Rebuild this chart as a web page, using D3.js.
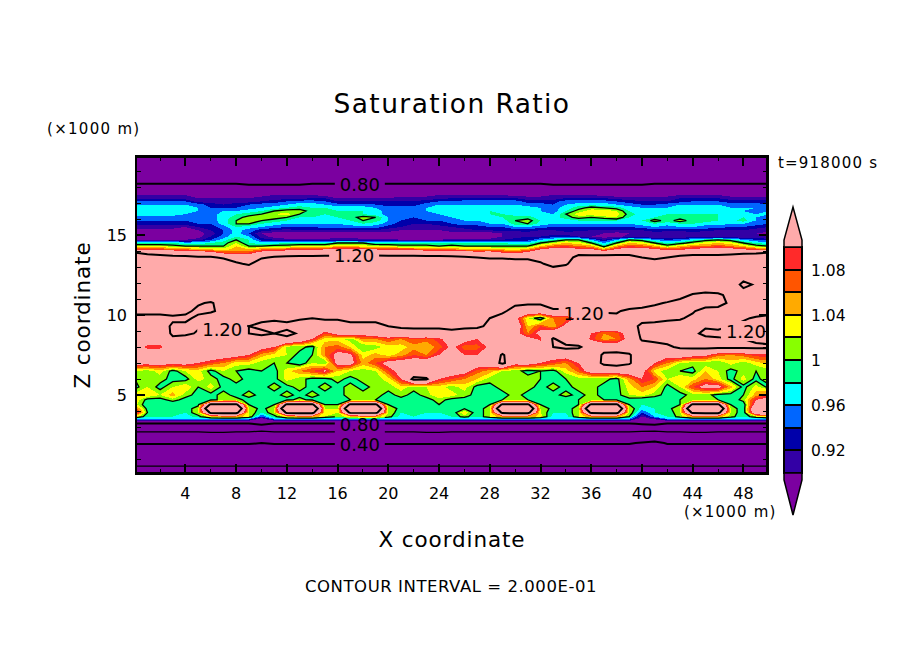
<!DOCTYPE html>
<html lang="en">

<head>
  <meta charset="UTF-8">
  <title>Saturation Ratio</title>
  <script src="https://d3js.org/d3.v7.min.js"></script>
  <style>
    body { margin: 0; background: white; }
    svg { display: block; }
    text { font-family: "DejaVu Sans", sans-serif; fill: black; }
    .contour-line { fill: none; stroke: black; }
    .fill-band { stroke: none; shape-rendering: crispEdges; }
    .frame { fill: none; stroke: black; stroke-width: 2.5px; shape-rendering: crispEdges; }
    .tick-mark { stroke: black; shape-rendering: crispEdges; }
  </style>
</head>

<body>
  <svg width="904" height="654"></svg>

  <script>
    // Colour levels, as on the colour bar
    var fillLevels = [0.90, 0.92, 0.94, 0.96, 0.98, 1.00, 1.02, 1.04, 1.06, 1.08, 1.10];
    var fillColors = ["#3300a5", "#0000aa", "#0066ff", "#00ffff", "#00ff88", "#88ff00", "#ffff00", "#ffaa00", "#ff5500", "#ff2a2a", "#ffaaaa"];
    var belowColor = "#7b00a0";
    var barLabels = [0.92, 0.96, 1.00, 1.04, 1.08];

    // Black contours, every 0.2
    var thinContours = [0.2, 0.6, 1.0];
    var thickContours = [0.4, 0.8, 1.2];

    var xTicks = [4, 8, 12, 16, 20, 24, 28, 32, 36, 40, 44, 48];
    var xMinorTicks = [2, 6, 10, 14, 18, 22, 26, 30, 34, 38, 42, 46];
    var zTicks = [5, 10, 15];
    var zMinorTicks = [1, 2, 3, 4, 6, 7, 8, 9, 11, 12, 13, 14, 16, 17, 18, 19];

    // Labels sitting on the contours: [text, x km, z km]
    var contourLabels = [
      ["0.80", 17.75, 18.2], ["1.20", 17.3, 13.75], ["1.20", 35.4, 10.15], ["1.20", 6.9, 9.15],
      ["1.20", 48.2, 9.0], ["0.80", 17.75, 3.2], ["0.40", 17.75, 1.95]
    ];

    // Grid heights (km) and columns (km)
    var xGrid = d3.range(0, 51);
    var zGrid = [19.9, 18.8, 18.2, 17.8, 17.5, 17.3, 17.1, 16.9, 16.7, 16.5, 16.3, 16.1, 15.9, 15.7, 15.5, 15.3, 15.1, 14.9, 14.7, 14.5, 14.3, 14.1, 13.9, 13.6, 13.2, 12.5, 11.9, 11.25, 10.75, 10.25, 9.8, 9.3, 8.85, 8.5, 8, 7.5, 7, 6.5, 6, 5.5, 5, 4.7, 4.4, 4.15, 3.9, 3.65, 3.5, 3.35, 3.2, 2.7, 2, 1, 0.55, 0.1];

    // Saturation ratio x 100, one row per height
    var ratioRows = [
      [70,70,70,70,70,70,70,70,70,70,70,70,70,70,70,70,70,70,70,70,70,70,70,70,70,70,70,70,70,70,70,70,70,70,70,70,70,70,70,70,70,70,70,70,70,70,70,70,70,70,70],
      [76,76,76,76,76,76,76,76,76,76,76,76,76,76,76,76,76,76,76,76,76,76,76,76,76,76,76,76,76,76,76,76,76,76,76,76,76,76,76,76,76,76,76,76,76,76,76,76,76,76,76],
      [80,80,80,80,80,80,80,80,80,79,79,79,79,79,80,80,80,80,80,80,80,80,80,80,80,80,80,80,80,80,80,80,80,79,79,79,79,79,79,79,79,80,80,80,80,80,80,80,80,80,80],
      [86,86,86,86,86,85,85,85,85,85,85,85,85,85,85,85,85,85,85,85,85,85,85,85,85,85,85,85,85,85,85,85,85,85,85,85,85,85,85,85,85,85,85,85,85,85,85,85,85,85,85],
      [90,90,90,90,90,89,89,89,89,89,89,90,90,90,90,89,89,89,89,89,89,89,89,89,90,90,90,90,90,90,89,89,89,90,90,90,90,89,89,89,89,89,89,90,90,90,90,89,89,89,89],
      [91,91,91,91,91,90,90,90,90,90,91,91,91,91,92,92,90,90,90,90,90,91,91,91,91,92,92,92,92,92,92,91,91,91,92,92,92,92,91,91,91,91,91,92,92,92,92,91,91,91,91],
      [94,94,94,94,94,91,91,91,91,91,92,93,94,95,95,94,92,92,92,92,92,92,92,93,94,94,95,95,95,95,95,93,93,93,95,95,95,95,94,93,92,92,92,93,94,94,94,93,93,93,93],
      [96,96,96,96,96,95,93,92,93,94,95,95,96,97,97,96,95,95,95,94,93,93,93,95,96,96,96,96,96,96,96,95,95,94,96,97,97,97,96,95,94,94,95,96,96,96,96,95,95,95,94],
      [97,97,97,97,97,96,94,94,94,95,96,97,98,99,98,98,97,97,97,96,95,95,95,96,97,97,97,97,97,97,97,97,96,95,97,99,101,100,99,97,96,96,96,97,97,97,97,96,96,96,95],
      [97,97,97,97,97,96,95,96,96,97,98,100,101,101,99,98,98,98,98,97,95,95,95,96,97,97,97,97,98,97,97,97,96,95,98,101,103,103,102,98,97,96,97,97,97,97,97,96,96,95,96],
      [97,97,97,97,96,95,95,97,98,99,100,102,103,100,98,98,99,98,98,97,95,95,95,95,96,97,97,97,98,98,97,97,96,96,100,103,103,104,103,99,97,97,98,98,98,98,98,97,97,96,96],
      [95,95,95,95,95,95,95,97,99,101,102,101,100,98,98,97,98,99,101,100,96,95,94,95,95,96,97,97,97,98,99,99,97,97,99,101,100,101,102,98,97,98,99,99,99,99,98,97,98,96,95],
      [94,94,94,94,94,94,95,97,100,101,100,99,98,97,97,97,97,98,100,99,96,94,93,94,94,95,96,96,96,97,100,101,98,97,97,98,98,98,98,97,98,101,99,101,99,99,98,97,99,96,95],
      [93,93,93,93,93,94,94,97,100,100,98,97,96,96,96,96,96,97,98,97,95,93,92,92,93,94,95,95,96,96,99,100,97,96,96,96,96,96,96,96,97,98,97,98,98,97,97,96,96,95,94],
      [91,91,91,91,90,92,93,95,98,97,96,95,94,94,94,95,95,95,95,95,93,92,91,91,91,92,93,93,94,94,96,96,95,94,94,94,94,94,94,94,95,96,95,96,96,95,95,94,94,93,92],
      [89,89,89,89,88,90,92,94,97,95,93,92,91,92,92,92,92,92,92,92,91,90,90,90,90,91,91,92,92,93,93,93,92,92,93,93,92,92,92,92,92,93,93,93,93,93,92,92,92,91,91],
      [88,88,88,88,88,89,91,94,97,94,90,89,89,89,89,89,89,89,89,89,89,89,89,89,89,89,89,89,89,90,90,91,90,91,91,90,90,90,89,90,91,91,90,90,91,90,90,90,90,90,89],
      [88,88,88,88,88,89,92,95,98,96,91,89,88,88,88,88,88,88,88,88,88,88,88,88,88,88,88,88,88,90,91,92,92,93,93,92,90,89,89,91,90,90,90,90,91,90,91,90,90,90,90],
      [90,90,90,90,90,91,94,97,100,98,93,92,91,91,91,91,92,92,91,91,91,90,90,90,90,91,91,91,91,92,93,93,96,98,100,100,96,92,96,100,99,96,94,95,97,99,100,99,96,94,93],
      [98,98,98,98,97,97,98,99,102,98,97,97,98,98,98,98,100,100,100,98,98,98,98,98,98,98,98,98,98,98,97,97,100,102,104,103,100,96,100,104,103,100,98,99,101,103,104,103,100,98,97],
      [102,102,102,101,100,100,100,100,104,100,100,101,101,102,102,102,104,104,103,102,102,101,101,101,100,101,100,100,100,100,100,100,104,107,108,106,105,99,105,108,107,105,101,104,106,106,108,106,104,101,100],
      [109,108,108,107,106,105,104,103,105,104,106,107,108,108,108,110,110,110,110,110,108,108,108,107,106,106,105,105,105,104,103,105,110,112,112,111,111,105,111,112,112,111,108,109,111,112,112,112,110,108,106],
      [120,119,118,116,115,114,112,108,107,108,112,114,114,115,115,116,116,116,117,117,116,116,116,115,115,114,114,112,113,110,109,111,114,116,116,117,116,115,117,118,118,117,116,116,118,118,118,118,119,119,120],
      [123,122,122,122,122,121,121,119,117,114,119,121,122,122,122,122,122,122,122,122,122,122,122,122,122,122,121,120,119,119,118,118,117,114,116,123,123,124,123,122,120,118,120,122,122,122,122,123,123,124,125],
      [125,125,125,125,125,125,125,125,121,119,125,125,125,125,125,125,125,125,125,125,125,125,125,125,125,125,125,125,125,125,125,125,121,117,119,125,125,125,125,125,125,125,125,125,125,125,125,125,125,125,125],
      [128,128,128,128,128,128,128,128,128,128,128,128,128,128,128,128,128,128,128,128,128,128,128,128,128,128,128,128,128,128,128,128,128,128,128,128,128,128,128,128,128,128,128,128,128,128,128,128,128,128,128],
      [130,130,130,130,130,130,130,130,130,130,130,130,130,130,130,130,130,130,130,130,130,130,130,130,130,130,130,130,130,130,130,130,130,130,130,130,130,130,130,130,130,130,130,130,130,130,130,130,116,122,130],
      [128,128,128,128,128,128,128,128,128,128,128,128,128,128,128,128,128,128,128,128,128,128,128,128,128,128,128,128,128,128,128,128,128,128,128,128,128,128,128,128,128,128,128,124,119,117,118,123,128,128,128],
      [125,125,125,125,125,121,119,124,126,126,126,126,126,126,126,126,126,126,126,126,126,126,126,126,126,126,126,126,126,126,121,121,121,126,126,126,126,126,126,126,126,122,119,116,115,115,116,122,125,125,125],
      [124,124,124,124,122,118,119,122,124,124,124,124,124,124,124,124,124,124,124,124,124,124,124,124,124,124,124,124,124,121,118,116,116,118,118,118,119,121,121,118,116,115,115,115,119,124,124,124,124,124,124],
      [116,116,116,118,118,122,124,124,124,122,122,122,122,121,120,121,121,122,122,122,122,122,122,122,122,122,122,122,120,118,112,102,98,106,106,112,116,117,118,118,117,116,118,119,122,123,123,122,121,119,117],
      [114,114,114,122,122,121,121,121,119,120,118,116,118,116,118,116,116,118,118,118,120,121,121,121,121,121,121,121,119,117,115,104,108,104,112,114,116,116,116,116,122,124,124,124,122,121,122,120,118,116,115],
      [114,114,116,121,122,119,118,118,117,120,122,120,122,119,116,108,112,113,112,114,116,117,118,118,118,119,118,117,116,116,112,106,112,114,114,113,110,106,107,113,122,123,124,123,122,118,118,116,116,116,116],
      [113,113,113,119,116,116,115,114,115,115,116,117,118,116,110,103,103,101,106,106,108,106,108,107,109,113,112,110,112,113,113,112,109,121,115,115,109,105,106,112,121,122,122,121,121,122,121,120,120,118,116],
      [113,109,109,113,114,114,114,114,114,113,112,110,101,101,99,106,107,104,100,101,103,103,105,104,107,111,107,107,111,113,114,113,114,120,122,121,116,115,114,115,116,117,119,121,122,122,122,122,122,122,122],
      [114,114,114,114,114,114,114,113,112,110,105,103,102,99,100,106,112,111,103,105,103,105,108,106,110,113,110,110,113,121,114,115,114,113,113,114,112,122,123,121,113,113,112,114,112,111,107,106,107,109,109],
      [112,112,112,112,112,110,108,106,103,103,101,100,100,98,102,100,112,112,105,108,112,113,113,114,114,114,114,114,114,122,112,113,110,108,106,110,114,122,123,121,113,110,106,102,101,101,100,103,101,103,105],
      [102,101,103,99,102,103,99,102,100,99,100,99,103,106,108,111,104,102,101,102,108,112,114,113,113,113,112,107,105,102,101,99,100,99,103,107,113,113,114,114,112,103,101,100,99,104,102,99,101,100,101],
      [100,102,101,99,99,103,101,99,101,99,99,99,103,101,99,99,101,99,101,101,103,110,122,121,110,108,106,104,101,101,101,101,100,99,100,101,101,101,99,105,110,108,102,104,103,106,103,99,103,99,102],
      [99,102,99,102,104,100,103,99,99,99,99,101,99,101,99,101,99,101,99,101,101,103,101,102,103,101,103,99,99,101,101,101,99,101,99,101,101,99,99,103,106,104,99,102,108,112,112,105,99,103,99],
      [103,104,102,105,101,99,99,101,99,101,99,99,101,99,101,99,99,101,101,101,99,101,99,101,104,103,101,99,99,99,101,99,99,99,101,99,101,99,99,102,103,101,99,99,101,101,99,99,100,105,108],
      [104,99,99,101,99,99,99,101,101,99,99,99,99,101,99,99,99,100,100,100,99,99,100,99,101,99,99,99,99,100,100,100,99,98,98,100,100,100,100,99,98,98,99,100,100,100,100,98,101,110,112],
      [103,98,98,98,99,99,122,122,122,100,99,100,122,122,122,100,100,122,122,122,100,98,99,99,100,98,98,99,100,122,122,122,100,99,98,100,122,122,122,100,98,98,98,100,122,122,122,100,98,113,116],
      [108,99,98,98,98,102,134,134,134,102,99,102,134,134,134,102,102,134,134,134,102,99,98,98,98,98,100,98,102,134,134,134,102,99,98,102,134,134,134,102,97,98,99,102,134,134,134,102,98,118,120],
      [112,100,98,98,98,102,122,123,123,102,98,102,122,123,123,102,102,122,123,123,102,98,98,98,98,98,104,98,102,122,123,123,102,98,98,102,122,123,123,102,94,98,98,102,122,123,123,102,98,116,118],
      [104,98,98,98,97,99,104,106,106,102,94,99,104,106,106,102,100,104,106,106,101,97,98,97,97,98,101,98,102,106,106,106,103,97,97,102,106,106,106,100,90,96,98,101,106,106,106,101,98,102,104],
      [96,96,96,96,96,96,97,97,97,96,88,96,97,97,97,96,96,97,97,97,96,96,96,96,96,96,96,96,96,97,97,97,96,96,96,96,97,97,97,96,87,91,96,96,97,97,97,96,96,96,96],
      [88,88,88,88,88,88,88,88,88,88,84,88,88,88,88,88,88,88,88,88,88,88,88,88,88,88,88,88,88,88,88,88,88,88,88,88,88,88,88,88,82,84,88,88,88,88,88,88,88,88,88],
      [79,79,79,79,79,79,79,79,79,79,83,79,79,79,79,79,79,79,79,79,79,79,79,79,79,79,79,79,79,79,79,79,79,79,79,79,79,79,79,79,81,83,79,79,79,79,79,79,79,79,79],
      [60,60,60,60,60,60,61,61,60,60,58,60,60,60,60,60,60,60,60,60,60,60,60,61,61,60,60,60,60,60,60,60,60,60,60,60,60,60,60,60,59,58,60,60,61,61,60,60,60,60,60],
      [41,41,41,41,41,41,41,41,41,41,40,41,41,41,41,41,41,41,41,41,41,41,41,41,41,41,41,41,41,41,41,41,41,41,41,41,41,41,41,41,39,37,41,41,41,41,41,41,41,41,41],
      [26,26,26,26,26,26,26,26,26,26,26,26,26,26,26,26,26,26,26,26,26,26,26,26,26,26,26,26,26,26,26,26,26,26,26,26,26,26,26,26,26,26,26,26,26,26,26,26,26,26,26],
      [20,20,20,20,20,20,20,20,20,20,20,20,20,20,20,20,20,20,20,20,20,20,20,20,20,20,20,20,20,20,20,20,20,20,20,20,20,20,20,20,20,20,20,20,20,20,20,20,20,20,20],
      [14,14,14,14,14,14,14,14,14,14,14,14,14,14,14,14,14,14,14,14,14,14,14,14,14,14,14,14,14,14,14,14,14,14,14,14,14,14,14,14,14,14,14,14,14,14,14,14,14,14,14]
    ];

    ratioRows.forEach(function (row, i) {
      if (row.length != xGrid.length) throw new Error("row " + i + " has " + row.length);
    });
    if (ratioRows.length != zGrid.length) throw new Error("rows " + ratioRows.length);

    var svg = d3.select("svg");

    var plot = { left: 136, right: 767.5, top: 156.6, bottom: 473.4 };

    var xScale = d3.scaleLinear().domain([0.1, 49.9]).range([plot.left, plot.right]);
    var zScale = d3.scaleLinear().domain([0.1, 19.9]).range([plot.bottom, plot.top]);

    // d3.contours puts values at cell centres, so grid index i is at i + 0.5
    var colToKm = d3.scaleLinear().domain(xGrid.map(d => d + 0.5)).range(xGrid);
    var rowToKm = d3.scaleLinear().domain(zGrid.map((d, i) => i + 0.5)).range(zGrid);

    var gridPath = d3.geoPath(d3.geoTransform({
      point: function (x, y) {
        this.stream.point(xScale(colToKm(x)), zScale(rowToKm(y)));
      }
    }));

    var ratios = ratioRows.flat().map(d => d / 100);
    var contours = d3.contours().size([xGrid.length, zGrid.length]);

    var defs = svg.append("defs");
    defs.append("clipPath").attr("id", "plot-clip")
      .append("rect")
      .attr("x", plot.left).attr("y", plot.top)
      .attr("width", plot.right - plot.left).attr("height", plot.bottom - plot.top);

    // gaps in the contour lines behind their labels
    var labelMask = defs.append("mask").attr("id", "label-gaps").attr("maskUnits", "userSpaceOnUse")
      .attr("x", 0).attr("y", 0).attr("width", 904).attr("height", 654);
    labelMask.append("rect").attr("width", 904).attr("height", 654).attr("fill", "white");
    labelMask.selectAll(".gap")
      .data(contourLabels)
      .enter().append("rect")
      .attr("class", "gap")
      .attr("x", d => xScale(d[1]) - 25)
      .attr("y", d => zScale(d[2]) - 10)
      .attr("width", 50)
      .attr("height", 20)
      .attr("fill", "black");

    var plotLayer = svg.append("g").attr("clip-path", "url(#plot-clip)");

    plotLayer.append("rect")
      .attr("x", plot.left).attr("y", plot.top)
      .attr("width", plot.right - plot.left).attr("height", plot.bottom - plot.top)
      .attr("fill", belowColor);

    plotLayer.selectAll(".fill-band")
      .data(fillLevels)
      .enter().append("path")
      .attr("class", "fill-band")
      .attr("fill", (d, i) => fillColors[i])
      .attr("d", d => gridPath(contours.contour(ratios, d)));

    var lineLayer = plotLayer.append("g").attr("mask", "url(#label-gaps)");

    lineLayer.selectAll(".thin")
      .data(thinContours)
      .enter().append("path")
      .attr("class", "contour-line thin")
      .attr("stroke-width", 1.3)
      .attr("d", d => gridPath(contours.contour(ratios, d)));

    lineLayer.selectAll(".thick")
      .data(thickContours)
      .enter().append("path")
      .attr("class", "contour-line thick")
      .attr("stroke-width", 2)
      .attr("d", d => gridPath(contours.contour(ratios, d)));

    svg.selectAll(".contour-label")
      .data(contourLabels)
      .enter().append("text")
      .attr("class", "contour-label")
      .attr("x", d => xScale(d[1]))
      .attr("y", d => zScale(d[2]) + 7)
      .attr("text-anchor", "middle")
      .attr("font-size", 18)
      .text(d => d[0]);

    // ticks point inward on all four sides
    function addTicks(values, scale, vertical, length) {
      [0, 1].forEach(function (side) {
        svg.selectAll(null)
          .data(values)
          .enter().append("line")
          .attr("class", "tick-mark")
          .attr("stroke-width", length > 5 ? 2 : 1)
          .attr("x1", d => vertical ? scale(d) : (side ? plot.right : plot.left))
          .attr("x2", d => vertical ? scale(d) : (side ? plot.right - length : plot.left + length))
          .attr("y1", d => vertical ? (side ? plot.top : plot.bottom) : scale(d))
          .attr("y2", d => vertical ? (side ? plot.top + length : plot.bottom - length) : scale(d));
      });
    }
    addTicks(xTicks, xScale, true, 9);
    addTicks(xMinorTicks, xScale, true, 4.5);
    addTicks(zTicks, zScale, false, 9);
    addTicks(zMinorTicks, zScale, false, 4.5);

    svg.append("rect")
      .attr("class", "frame")
      .attr("x", plot.left).attr("y", plot.top)
      .attr("width", plot.right - plot.left).attr("height", plot.bottom - plot.top);

    svg.selectAll(".x-label")
      .data(xTicks)
      .enter().append("text")
      .attr("class", "x-label")
      .attr("x", d => xScale(d))
      .attr("y", 499)
      .attr("text-anchor", "middle")
      .attr("font-size", 16)
      .text(d => d);

    svg.selectAll(".z-label")
      .data(zTicks)
      .enter().append("text")
      .attr("class", "z-label")
      .attr("x", 127)
      .attr("y", d => zScale(d) + 6)
      .attr("text-anchor", "end")
      .attr("font-size", 16)
      .text(d => d);

    // colour bar
    var barScale = d3.scaleLinear().domain([0.90, 1.10]).range([473, 247]);
    var bar = { left: 784, right: 802, mid: 793 };

    svg.selectAll(".bar-box")
      .data(fillLevels.slice(0, -1))
      .enter().append("rect")
      .attr("class", "bar-box")
      .attr("x", bar.left)
      .attr("y", d => barScale(d + 0.02))
      .attr("width", bar.right - bar.left)
      .attr("height", d => barScale(d) - barScale(d + 0.02))
      .attr("fill", (d, i) => fillColors[i])
      .attr("stroke", "black")
      .attr("stroke-width", 2)
      .attr("shape-rendering", "crispEdges");

    svg.append("path")
      .attr("d", "M" + bar.left + ",247 L" + bar.left + ",240 L" + bar.mid + ",207 L" + bar.right + ",240 L" + bar.right + ",247 Z")
      .attr("fill", fillColors[10])
      .attr("stroke", "black")
      .attr("stroke-width", 1.5);

    svg.append("path")
      .attr("d", "M" + bar.left + ",473 L" + bar.left + ",480 L" + bar.mid + ",515 L" + bar.right + ",480 L" + bar.right + ",473 Z")
      .attr("fill", belowColor)
      .attr("stroke", "black")
      .attr("stroke-width", 1.5);

    svg.selectAll(".bar-label")
      .data(barLabels)
      .enter().append("text")
      .attr("class", "bar-label")
      .attr("x", 811)
      .attr("y", d => barScale(d) + 6)
      .attr("font-size", 15.5)
      .text(d => d == 1 ? "1" : d3.format(".2f")(d));

    // titles
    function addText(label, x, y, size, anchor, spacing) {
      return svg.append("text")
        .attr("x", x)
        .attr("y", y)
        .attr("font-size", size)
        .attr("text-anchor", anchor)
        .attr("letter-spacing", spacing)
        .text(label);
    }

    addText("Saturation Ratio", 452, 113, 26.5, "middle", 1.4);
    addText("X coordinate", 452, 547, 21.5, "middle", 0.9);
    addText("(×1000 m)", 47, 134, 15, "start", 1.3);
    addText("(×1000 m)", 684, 517, 15, "start", 1.2);
    addText("t=918000 s", 778, 168, 15, "start", 1.2);
    addText("CONTOUR INTERVAL = 2.000E-01", 451, 592, 16.5, "middle", 0.55);

    addText("Z coordinate", 0, 0, 21.5, "middle", 0.9)
      .attr("transform", "translate(90,315) rotate(-90)");
  </script>

</body>

</html>
